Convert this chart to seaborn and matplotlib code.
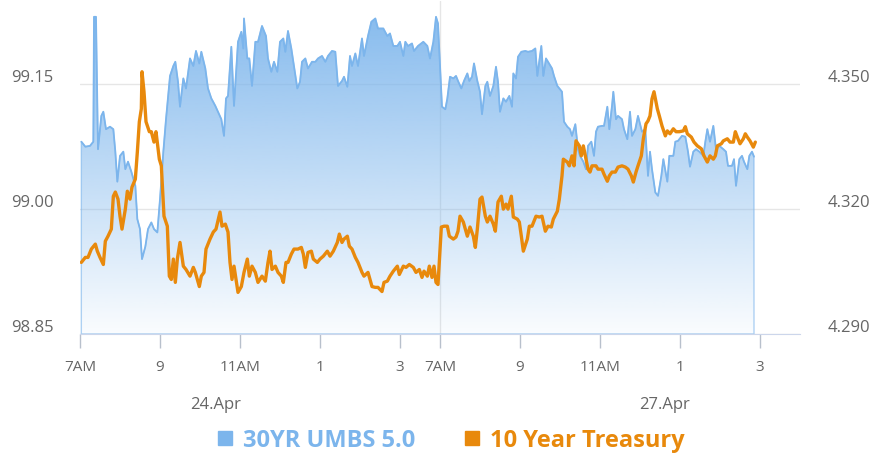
import numpy as np
import pandas as pd
import matplotlib
matplotlib.use('Agg')
import matplotlib.pyplot as plt
import seaborn as sns
from matplotlib.lines import Line2D
from matplotlib.transforms import ScaledTranslation
from matplotlib.colors import to_rgb

BLUE = '#7cb5ec'
ORANGE = '#e8890c'

# 30YR UMBS 5.0, Apr 24 session
umbs_apr24_time = [
    '07:02', '07:08', '07:15', '07:20', '07:21', '07:24', '07:27', '07:32',
    '07:35', '07:39', '07:45', '07:50', '07:53', '07:56', '08:00', '08:05',
    '08:08', '08:12', '08:17', '08:23', '08:26', '08:30', '08:33', '08:38',
    '08:42', '08:47', '08:51', '08:56', '09:00', '09:05', '09:09', '09:15',
    '09:20', '09:23', '09:27', '09:30', '09:35', '09:39', '09:45', '09:50',
    '09:54', '09:59', '10:02', '10:08', '10:12', '10:17', '10:23', '10:27',
    '10:32', '10:36', '10:39', '10:42', '10:47', '10:51', '10:57', '11:02',
    '11:05', '11:06', '11:11', '11:14', '11:18', '11:23', '11:27', '11:33',
    '11:39', '11:42', '11:47', '11:51', '11:56', '12:00', '12:05', '12:08',
    '12:12', '12:17', '12:20', '12:26', '12:30', '12:33', '12:38', '12:42',
    '12:48', '12:53', '12:57', '13:03', '13:08', '13:12', '13:18', '13:23',
    '13:27', '13:33', '13:36', '13:41', '13:45', '13:48', '13:53', '13:57',
    '14:03', '14:06', '14:12', '14:17', '14:23', '14:27', '14:35', '14:41',
    '14:45', '14:50', '14:56', '15:00', '15:05', '15:08', '15:12', '15:18',
    '15:21', '15:27', '15:35', '15:41', '15:45', '15:50', '15:54', '15:57',
]
umbs_apr24 = [
    99.081, 99.075, 99.076, 99.081, 99.231, 99.231, 99.072, 99.112,
    99.117, 99.096, 99.099, 99.096, 99.069, 99.033, 99.064, 99.069,
    99.048, 99.057, 99.045, 99.028, 98.988, 98.976, 98.940, 98.955,
    98.976, 98.984, 98.976, 98.972, 99.012, 99.069, 99.108, 99.160,
    99.172, 99.177, 99.153, 99.123, 99.157, 99.145, 99.181, 99.172,
    99.190, 99.175, 99.189, 99.169, 99.145, 99.133, 99.124, 99.117,
    99.108, 99.088, 99.133, 99.136, 99.195, 99.124, 99.201, 99.213,
    99.193, 99.229, 99.181, 99.181, 99.148, 99.201, 99.201, 99.220,
    99.208, 99.181, 99.165, 99.177, 99.165, 99.201, 99.205, 99.189,
    99.214, 99.193, 99.177, 99.145, 99.153, 99.177, 99.181, 99.169,
    99.177, 99.177, 99.181, 99.184, 99.177, 99.184, 99.190, 99.189,
    99.148, 99.154, 99.159, 99.147, 99.184, 99.172, 99.187, 99.172,
    99.205, 99.184, 99.208, 99.225, 99.229, 99.217, 99.217, 99.208,
    99.211, 99.196, 99.196, 99.201, 99.184, 99.201, 99.196, 99.199,
    99.190, 99.196, 99.201, 99.196, 99.181, 99.201, 99.231, 99.223,
]

# 30YR UMBS 5.0, Apr 27 session
umbs_apr27_time = [
    '07:03', '07:08', '07:11', '07:15', '07:20', '07:24', '07:27', '07:32',
    '07:36', '07:41', '07:44', '07:48', '07:51', '07:56', '08:00', '08:03',
    '08:08', '08:11', '08:15', '08:20', '08:24', '08:27', '08:30', '08:35',
    '08:39', '08:44', '08:48', '08:50', '08:54', '08:57', '09:02', '09:08',
    '09:12', '09:18', '09:23', '09:26', '09:32', '09:35', '09:39', '09:42',
    '09:48', '09:51', '09:56', '09:59', '10:03', '10:06', '10:11', '10:15',
    '10:18', '10:23', '10:27', '10:30', '10:35', '10:39', '10:42', '10:47',
    '10:51', '10:54', '10:57', '11:03', '11:06', '11:11', '11:14', '11:18',
    '11:20', '11:24', '11:27', '11:33', '11:36', '11:41', '11:45', '11:48',
    '11:53', '11:57', '12:03', '12:08', '12:12', '12:15', '12:18', '12:23',
    '12:27', '12:32', '12:35', '12:41', '12:44', '12:50', '12:53', '12:57',
    '13:03', '13:08', '13:12', '13:15', '13:20', '13:24', '13:29', '13:35',
    '13:38', '13:41', '13:45', '13:50', '13:54', '13:59', '14:05', '14:09',
    '14:12', '14:18', '14:21', '14:24', '14:29', '14:33', '14:36', '14:41',
    '14:44', '14:48', '14:51',
]
umbs_apr27 = [
    99.123, 99.120, 99.133, 99.159, 99.157, 99.160, 99.154, 99.145,
    99.154, 99.163, 99.154, 99.159, 99.175, 99.154, 99.141, 99.114,
    99.148, 99.153, 99.136, 99.148, 99.171, 99.153, 99.117, 99.133,
    99.129, 99.136, 99.123, 99.163, 99.157, 99.183, 99.189, 99.190,
    99.189, 99.190, 99.193, 99.160, 99.196, 99.160, 99.181, 99.177,
    99.169, 99.160, 99.148, 99.145, 99.141, 99.105, 99.099, 99.096,
    99.088, 99.102, 99.072, 99.064, 99.057, 99.048, 99.076, 99.081,
    99.064, 99.093, 99.099, 99.100, 99.100, 99.123, 99.096, 99.124,
    99.141, 99.108, 99.112, 99.108, 99.096, 99.084, 99.117, 99.088,
    99.096, 99.112, 99.093, 99.096, 99.040, 99.069, 99.048, 99.020,
    99.016, 99.040, 99.060, 99.033, 99.064, 99.064, 99.081, 99.082,
    99.088, 99.087, 99.069, 99.051, 99.069, 99.072, 99.069, 99.064,
    99.081, 99.096, 99.081, 99.100, 99.072, 99.076, 99.072, 99.069,
    99.052, 99.052, 99.060, 99.028, 99.060, 99.064, 99.057, 99.048,
    99.064, 99.069, 99.063,
]

# 10 Year Treasury, Apr 24 session
ust_apr24_time = [
    '07:02', '07:08', '07:12', '07:17', '07:23', '07:26', '07:30', '07:35',
    '07:38', '07:42', '07:47', '07:50', '07:53', '07:57', '08:00', '08:03',
    '08:08', '08:11', '08:15', '08:18', '08:23', '08:26', '08:29', '08:32',
    '08:33', '08:36', '08:39', '08:44', '08:47', '08:51', '08:54', '08:59',
    '09:02', '09:06', '09:11', '09:14', '09:17', '09:20', '09:23', '09:26',
    '09:30', '09:35', '09:39', '09:45', '09:50', '09:53', '09:59', '10:02',
    '10:06', '10:09', '10:15', '10:20', '10:24', '10:30', '10:33', '10:38',
    '10:42', '10:45', '10:48', '10:51', '10:57', '11:02', '11:06', '11:11',
    '11:14', '11:18', '11:23', '11:27', '11:33', '11:38', '11:42', '11:45',
    '11:48', '11:53', '11:57', '12:02', '12:05', '12:09', '12:12', '12:17',
    '12:21', '12:27', '12:32', '12:35', '12:38', '12:42', '12:47', '12:50',
    '12:56', '13:00', '13:05', '13:11', '13:15', '13:20', '13:26', '13:29',
    '13:33', '13:36', '13:41', '13:44', '13:48', '13:53', '13:57', '14:03',
    '14:06', '14:12', '14:15', '14:18', '14:23', '14:27', '14:33', '14:36',
    '14:41', '14:45', '14:50', '14:56', '14:59', '15:05', '15:09', '15:14',
    '15:20', '15:24', '15:29', '15:33', '15:36', '15:41', '15:44', '15:48',
    '15:51', '15:54', '15:57',
]
ust_apr24 = [
    4.3072, 4.3084, 4.3084, 4.3104, 4.3116, 4.3099, 4.3084, 4.3067,
    4.3123, 4.3135, 4.3152, 4.3231, 4.3241, 4.3224, 4.3183, 4.3152,
    4.3200, 4.3243, 4.3224, 4.3253, 4.3272, 4.3337, 4.3410, 4.3441,
    4.3530, 4.3482, 4.3410, 4.3386, 4.3386, 4.3361, 4.3386, 4.3320,
    4.3304, 4.3183, 4.3159, 4.3039, 4.3031, 4.3080, 4.3024, 4.3080,
    4.3120, 4.3063, 4.3055, 4.3039, 4.3060, 4.3048, 4.3014, 4.3039,
    4.3048, 4.3104, 4.3128, 4.3145, 4.3152, 4.3193, 4.3159, 4.3164,
    4.3145, 4.3072, 4.3031, 4.3063, 4.3000, 4.3014, 4.3048, 4.3080,
    4.3039, 4.3063, 4.3048, 4.3024, 4.3039, 4.3027, 4.3072, 4.3099,
    4.3055, 4.3063, 4.3048, 4.3039, 4.3024, 4.3072, 4.3072, 4.3092,
    4.3104, 4.3104, 4.3108, 4.3092, 4.3060, 4.3096, 4.3099, 4.3080,
    4.3072, 4.3080, 4.3087, 4.3099, 4.3087, 4.3099, 4.3120, 4.3140,
    4.3120, 4.3128, 4.3135, 4.3111, 4.3104, 4.3084, 4.3072, 4.3048,
    4.3039, 4.3048, 4.3031, 4.3014, 4.3012, 4.3012, 4.3002, 4.3024,
    4.3027, 4.3039, 4.3051, 4.3063, 4.3043, 4.3063, 4.3060, 4.3067,
    4.3060, 4.3048, 4.3055, 4.3036, 4.3051, 4.3039, 4.3063, 4.3036,
    4.3063, 4.3024, 4.3019,
]

# 10 Year Treasury, Apr 27 session
ust_apr27_time = [
    '07:02', '07:06', '07:11', '07:14', '07:20', '07:24', '07:27', '07:30',
    '07:35', '07:38', '07:41', '07:45', '07:50', '07:53', '07:56', '08:00',
    '08:03', '08:08', '08:11', '08:15', '08:20', '08:23', '08:27', '08:32',
    '08:35', '08:39', '08:42', '08:47', '08:50', '08:56', '08:59', '09:02',
    '09:05', '09:11', '09:14', '09:18', '09:24', '09:29', '09:33', '09:38',
    '09:42', '09:47', '09:50', '09:56', '09:59', '10:03', '10:05', '10:11',
    '10:14', '10:18', '10:21', '10:24', '10:29', '10:32', '10:35', '10:38',
    '10:42', '10:45', '10:48', '10:54', '10:57', '11:03', '11:06', '11:11',
    '11:14', '11:18', '11:23', '11:27', '11:33', '11:38', '11:42', '11:47',
    '11:50', '11:54', '11:57', '12:02', '12:05', '12:09', '12:12', '12:15',
    '12:18', '12:21', '12:26', '12:29', '12:33', '12:38', '12:41', '12:45',
    '12:50', '12:54', '12:59', '13:05', '13:08', '13:11', '13:17', '13:21',
    '13:26', '13:32', '13:36', '13:41', '13:45', '13:50', '13:53', '13:56',
    '14:02', '14:05', '14:11', '14:15', '14:20', '14:23', '14:26', '14:30',
    '14:35', '14:38', '14:41', '14:45', '14:50', '14:53',
]
ust_apr27 = [
    4.3157, 4.3159, 4.3159, 4.3135, 4.3128, 4.3133, 4.3147, 4.3183,
    4.3169, 4.3152, 4.3135, 4.3157, 4.3135, 4.3108, 4.3152, 4.3224,
    4.3229, 4.3183, 4.3169, 4.3183, 4.3164, 4.3147, 4.3217, 4.3231,
    4.3200, 4.3212, 4.3200, 4.3231, 4.3181, 4.3176, 4.3169, 4.3135,
    4.3099, 4.3128, 4.3159, 4.3159, 4.3183, 4.3181, 4.3183, 4.3147,
    4.3159, 4.3157, 4.3176, 4.3195, 4.3224, 4.3280, 4.3320, 4.3313,
    4.3304, 4.3328, 4.3304, 4.3364, 4.3352, 4.3328, 4.3352, 4.3328,
    4.3296, 4.3289, 4.3304, 4.3304, 4.3296, 4.3296, 4.3284, 4.3267,
    4.3280, 4.3289, 4.3289, 4.3301, 4.3304, 4.3301, 4.3296, 4.3280,
    4.3265, 4.3289, 4.3304, 4.3328, 4.3369, 4.3405, 4.3412, 4.3424,
    4.3465, 4.3482, 4.3441, 4.3424, 4.3400, 4.3376, 4.3388, 4.3381,
    4.3393, 4.3386, 4.3386, 4.3388, 4.3398, 4.3381, 4.3373, 4.3361,
    4.3352, 4.3345, 4.3328, 4.3313, 4.3328, 4.3320, 4.3328, 4.3352,
    4.3357, 4.3364, 4.3369, 4.3361, 4.3361, 4.3386, 4.3373, 4.3357,
    4.3369, 4.3381, 4.3373, 4.3364, 4.3349, 4.3361,
]

tick_pos = [0, 2, 4, 6, 8, 9, 11, 13, 15, 17]
tick_labels = ['7AM', '9', '11AM', '1', '3', '7AM', '9', '11AM', '1', '3']
left_ticks = [98.85, 99.00, 99.15]
right_ticks = [4.290, 4.320, 4.350]
day_labels = ['24.Apr', '27.Apr']


def session(times, values, day):
    # collapsed (ordinal) time axis: each session 7AM-4PM takes 9 hours
    t = pd.to_datetime(pd.Series(times), format='%H:%M')
    pos = day * 9 + t.dt.hour + t.dt.minute / 60 - 7
    return pd.DataFrame({'pos': pos, 'value': values})


umbs = pd.concat([session(umbs_apr24_time, umbs_apr24, 0),
                  session(umbs_apr27_time, umbs_apr27, 1)], ignore_index=True)
ust = pd.concat([session(ust_apr24_time, ust_apr24, 0),
                 session(ust_apr27_time, ust_apr27, 1)], ignore_index=True)

sns.set_style('white')
plt.rcParams['font.family'] = ['Open Sans', 'DejaVu Sans']

fig = plt.figure(figsize=(8.76, 4.60), dpi=100)
ax = fig.add_axes([80 / 876, 125 / 460, 720 / 876, 333 / 460])
ax2 = ax.twinx()

# gradient area under the MBS line
poly = ax.fill_between(umbs['pos'], umbs['value'], 98.85, facecolor='none',
                       edgecolor=BLUE, linewidth=1, alpha=0.6, zorder=1.5)
grad = np.zeros((256, 1, 4))
grad[:, 0, :3] = to_rgb(BLUE)
grad[:, 0, 3] = np.linspace(0.95, 0.04, 256)
im = ax.imshow(grad, extent=[0, 18, 98.85, 99.25], aspect='auto',
               origin='upper', zorder=1)
im.set_clip_path(poly.get_paths()[0], transform=ax.transData)

sns.lineplot(data=umbs, x='pos', y='value', ax=ax, color=BLUE, lw=1.3,
             estimator=None, sort=False, zorder=2)
sns.lineplot(data=ust, x='pos', y='value', ax=ax2, color=ORANGE, lw=2.4,
             estimator=None, sort=False)

ax.set_xlim(0, 18)
ax.set_ylim(98.85, 99.25)
ax2.set_ylim(4.29, 4.37)
ax.set_xlabel('')
ax.set_ylabel('')
ax2.set_ylabel('')

ax.set_axisbelow(True)
ax.grid(axis='y', color='#e6e6e6', lw=1)
ax.grid(axis='x', visible=False)
ax.axvline(9, color='#e6e6e6', lw=1, zorder=0.6)

for s in ax.spines.values():
    s.set_visible(False)
for s in ax2.spines.values():
    s.set_visible(False)
ax.spines['bottom'].set_visible(True)
ax.spines['bottom'].set_color('#ccd6eb')

ax.set_xticks(tick_pos)
ax.set_xticklabels(tick_labels)
ax.tick_params(axis='x', length=10, width=1, color='#b8c0cc', pad=8,
               labelsize=11, labelcolor='#666666', bottom=True)

ax.set_yticks(left_ticks)
ax.set_yticklabels([f'{v:.2f}' for v in left_ticks])
ax.tick_params(axis='y', length=0, pad=19, labelsize=12, labelcolor='#666666')
ax2.set_yticks(right_ticks)
ax2.set_yticklabels([f'{v:.3f}' for v in right_ticks])
ax2.tick_params(axis='y', length=0, pad=20, labelsize=12, labelcolor='#666666')

shift = ScaledTranslation(0, 9 / 100, fig.dpi_scale_trans)
for lbl in ax.get_yticklabels() + ax2.get_yticklabels():
    lbl.set_transform(lbl.get_transform() + shift)

fig.text(216 / 876, 1 - 405 / 460, day_labels[0], ha='center', va='center',
         fontsize=12, color='#666666')
fig.text(665 / 876, 1 - 405 / 460, day_labels[1], ha='center', va='center',
         fontsize=12, color='#666666')

handles = [Line2D([], [], marker='s', ls='none', markersize=10, color=BLUE),
           Line2D([], [], marker='s', ls='none', markersize=10, color=ORANGE)]
leg = fig.legend(handles, ['30YR UMBS 5.0', '10 Year Treasury'], loc='center',
                 bbox_to_anchor=(450 / 876, 1 - 441 / 460), ncol=2,
                 frameon=False, prop={'weight': 'bold', 'size': 17},
                 handletextpad=0.35, columnspacing=2.0, handlelength=0.8)
for txt, c in zip(leg.get_texts(), [BLUE, ORANGE]):
    txt.set_color(c)

fig.savefig('out.png', dpi=100)
